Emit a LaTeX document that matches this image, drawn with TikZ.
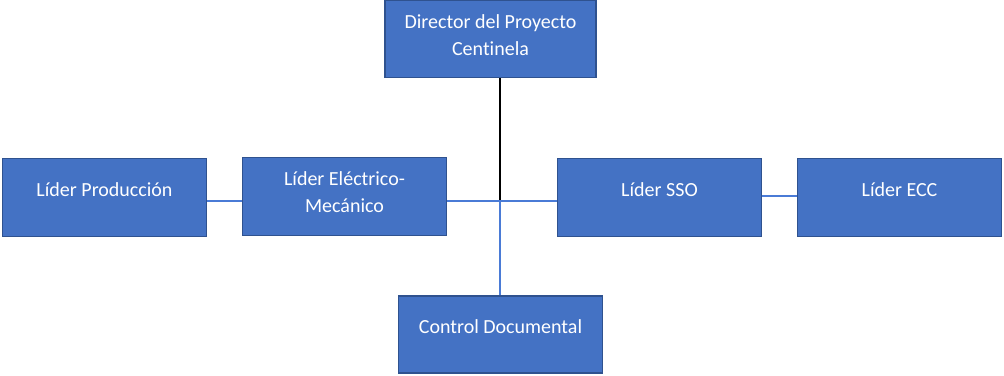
\documentclass[tikz,border=0pt]{standalone}
\usepackage{fontspec}
\setmainfont{Carlito}[Ligatures=NoCommon]
\definecolor{boxfill}{HTML}{4472C4}
\definecolor{boxedge}{HTML}{2F528F}
\definecolor{linkblue}{HTML}{4A7BD6}
% struts that place the text block inside the boxes
\newcommand\onelinestrut{\rule[-18pt]{0pt}{33pt}}
\newcommand\firststrut{\rule{0pt}{16pt}}
\newcommand\laststrut{\rule[-11pt]{0pt}{11pt}}
\begin{document}
\begin{tikzpicture}[x=1pt,y=-1pt,
  orgbox/.style={draw=boxedge,fill=boxfill,line width=1.7pt,text=white,
    font=\fontsize{20}{27}\selectfont,align=center,inner sep=0pt,
    minimum width=204pt,minimum height=78pt},
  link/.style={draw=linkblue,line width=1.3pt}]
\useasboundingbox (0,0) rectangle (1004,375);
% boxes (centres in pixel units)
\node[orgbox,minimum width=211pt,minimum height=77pt] (dir) at (490.5,39)
  {\firststrut Director del Proyecto\\Centinela\laststrut};
\node[orgbox] (prod) at (104.5,197.5) {\onelinestrut Líder Producción};
\node[orgbox] (elec) at (344.5,196.5) {\firststrut Líder Eléctrico-\\Mecánico\laststrut};
\node[orgbox] (sso) at (659.5,197.5) {\onelinestrut Líder SSO};
\node[orgbox] (ecc) at (899.5,197.5) {\onelinestrut Líder ECC};
\node[orgbox,minimum height=77pt] (doc) at (500.5,334.5) {\onelinestrut Control Documental};
% junction point of the tree
\coordinate (hub) at (500,201);
% connectors
\draw[line width=1.2pt,black] (dir.south -| hub) -- (hub);
\draw[link] (elec.east |- hub) -- (sso.west |- hub);
\draw[link] (hub) -- (doc.north -| hub);
\draw[link] (prod.east |- hub) -- (elec.west |- hub);
\draw[link] ([yshift=1.5pt]sso.east) -- ([yshift=1.5pt]ecc.west);
\end{tikzpicture}
\end{document}
